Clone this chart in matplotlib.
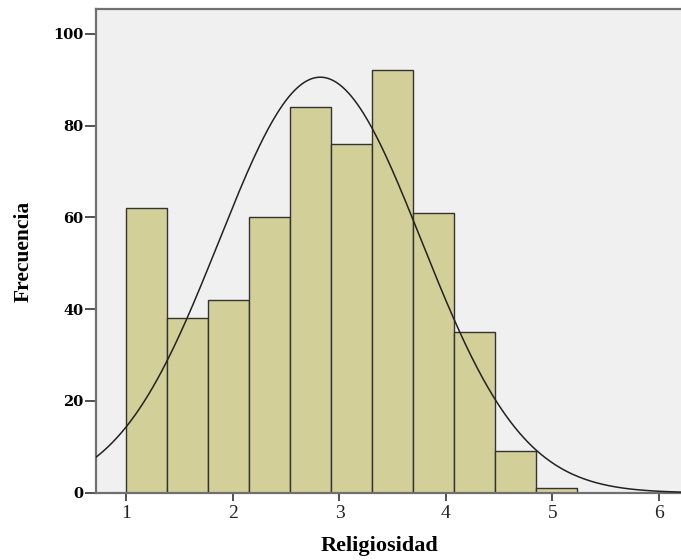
import numpy as np
import matplotlib
matplotlib.use("Agg")
import matplotlib.pyplot as plt

# frecuencias por intervalo (histograma SPSS)
frecuencias = [62, 38, 42, 60, 84, 76, 92, 61, 35, 9, 1]
inicio = 1.0
ancho = 0.385
media = 2.82
desv = 0.95
n_total = sum(frecuencias)

x_ticks = [1, 2, 3, 4, 5, 6]
y_ticks = [0, 20, 40, 60, 80, 100]

plt.rcParams['font.family'] = ['Liberation Serif', 'DejaVu Serif']

fig = plt.figure(figsize=(6.81, 5.6), dpi=100)
ax = fig.add_axes([0.141, 0.12, 0.859, 0.864])
ax.set_facecolor('#f0f0f0')

bordes = inicio + ancho * np.arange(len(frecuencias))
ax.bar(bordes, frecuencias, width=ancho, align='edge', color='#d3cf98',
       edgecolor='#333333', linewidth=1.0, zorder=2)

# curva normal
xs = np.linspace(0.7, 6.3, 400)
ys = n_total * ancho / (desv * np.sqrt(2 * np.pi)) * np.exp(-0.5 * ((xs - media) / desv) ** 2)
ax.plot(xs, ys, color='#222222', linewidth=1.1, zorder=3)

ax.set_xlim(0.714, 6.207)
ax.set_ylim(0, 105.4)
ax.set_xticks(x_ticks)
ax.set_yticks(y_ticks)
ax.set_xticklabels([str(t) for t in x_ticks], fontsize=14, color='#222222')
ax.set_yticklabels([str(t) for t in y_ticks], fontsize=10.5, fontweight='bold',
                   family='DejaVu Serif')

for s in ['left', 'bottom', 'top']:
    ax.spines[s].set_color('#707070')
    ax.spines[s].set_linewidth(1.6)
ax.spines['right'].set_visible(False)
ax.tick_params(axis='y', length=8, width=1.3, color='#444444', pad=1)
ax.tick_params(axis='x', length=6, width=1.3, color='#444444', pad=3)

ax.set_xlabel('Religiosidad', fontsize=16, fontweight='bold')
ax.xaxis.set_label_coords(0.484, -0.09)
ax.set_ylabel('Frecuencia', fontsize=15.5, fontweight='bold', labelpad=14)

fig.savefig('out.png', dpi=100)
